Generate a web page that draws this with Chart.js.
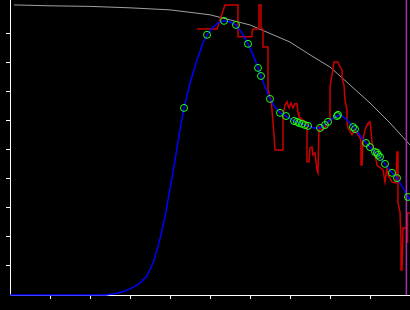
<!DOCTYPE html>
<html>
<head>
<meta charset="utf-8">
<script src="https://cdn.jsdelivr.net/npm/chart.js@4.4.1/dist/chart.umd.min.js"></script>
<style>
  html, body { margin: 0; padding: 0; background: #000; }
  #chart { display: block; background: #000; }
</style>
</head>
<body>
<canvas id="chart" width="410" height="310"></canvas>
<script>
// tick positions (no labels in the picture)
const xTicks = [1, 2, 3, 4, 5, 6, 7, 8, 9];
const yTicks = [1, 2, 3, 4, 5, 6, 7, 8, 9];

// slow gray envelope
const grayX = [0.1, 1.0, 2.0, 3.0, 4.0, 5.0, 6.0, 7.0, 7.5, 8.0, 8.5, 9.0, 9.5, 10.0];
const grayY = [10.0, 9.97, 9.95, 9.9, 9.83, 9.66, 9.31, 8.72, 8.28, 7.86, 7.24, 6.62, 5.93, 5.17];

// smooth blue fit
const blueX = [0, 2.4, 2.7, 2.875, 3.0, 3.175, 3.3, 3.425, 3.575, 3.7, 3.8, 3.875, 3.95, 4.05, 4.15, 4.25,
  4.35, 4.5, 4.675, 4.825, 4.925, 5.075, 5.2, 5.35, 5.5, 5.65, 5.8, 5.95, 6.075, 6.2, 6.275, 6.375,
  6.5, 6.625, 6.75, 6.9, 7.1, 7.3, 7.45, 7.6, 7.75, 7.85, 7.95, 8.075, 8.175, 8.25, 8.375, 8.5,
  8.575, 8.65, 8.775, 8.9, 9.0, 9.125, 9.25, 9.375, 9.55, 9.675, 9.825, 9.95, 10.0];
const blueY = [0, 0, 0.07, 0.14, 0.21, 0.34, 0.48, 0.66, 1.10, 1.66, 2.24, 2.69, 3.28, 4.03, 4.86, 5.69,
  6.45, 7.31, 8.10, 8.69, 8.97, 9.24, 9.38, 9.45, 9.41, 9.31, 9.03, 8.66, 8.28, 7.83, 7.55, 7.17,
  6.76, 6.48, 6.28, 6.17, 6.0, 5.90, 5.83, 5.76, 5.76, 5.86, 5.97, 6.10, 6.17, 6.21, 6.10, 5.93,
  5.79, 5.69, 5.45, 5.24, 5.10, 4.93, 4.76, 4.52, 4.21, 4.03, 3.69, 3.38, 3.28];

// green sample markers
const markX = [4.35, 4.925, 5.35, 5.65, 5.95, 6.2, 6.275, 6.5, 6.75, 6.9, 7.1, 7.175, 7.225, 7.3, 7.375,
  7.45, 7.75, 7.875, 7.95, 8.175, 8.2, 8.575, 8.625, 8.9, 9.0, 9.125, 9.175, 9.2, 9.25, 9.375,
  9.55, 9.675, 9.95];
const markY = [6.45, 8.97, 9.45, 9.31, 8.66, 7.83, 7.55, 6.76, 6.28, 6.17, 6.0, 5.97, 5.93, 5.90, 5.86,
  5.83, 5.76, 5.86, 5.97, 6.17, 6.21, 5.79, 5.72, 5.24, 5.10, 4.93, 4.90, 4.83, 4.76, 4.52,
  4.21, 4.03, 3.38];

// noisy red measurement
const redX = [4.675, 5.175, 5.375, 5.7, 5.7, 6.05, 6.05, 6.075, 6.225, 6.225, 6.275, 6.275, 6.325, 6.325,
  6.45, 6.45, 6.525, 6.55, 6.6, 6.625, 6.825, 6.825, 6.875, 6.925, 6.975, 7.025, 7.075, 7.125,
  7.175, 7.2, 7.225, 7.325, 7.425, 7.425, 7.475, 7.5, 7.55, 7.575, 7.625, 7.675, 7.7, 7.725,
  7.8, 7.875, 7.95, 8.0, 8.0, 8.05, 8.1, 8.2, 8.25, 8.3, 8.3, 8.35, 8.375, 8.425, 8.425, 8.45,
  8.55, 8.625, 8.7, 8.775, 8.775, 8.8, 8.825, 8.875, 8.925, 8.95, 9.0, 9.025, 9.05, 9.075,
  9.15, 9.175, 9.325, 9.375, 9.425, 9.45, 9.55, 9.65, 9.675, 9.7, 9.7, 9.75, 9.775, 9.775,
  9.8, 9.825, 9.925, 9.925, 9.95, 10.0];
const redY = [9.17, 9.17, 10.0, 10.0, 8.90, 8.90, 9.07, 9.17, 9.17, 10.0, 10.0, 9.24, 9.14, 8.55,
  8.55, 7.07, 6.72, 6.38, 5.52, 5.0, 5.0, 6.21, 6.55, 6.66, 6.45, 6.62, 6.45, 6.59,
  6.59, 6.31, 6.14, 6.03, 5.93, 4.59, 4.59, 5.07, 5.10, 4.83, 4.90, 4.31, 4.21, 5.79,
  5.69, 5.76, 5.97, 6.03, 7.17, 7.59, 8.03, 8.03, 7.86, 7.76, 7.48, 7.24, 6.72, 6.38, 5.97, 5.76,
  5.52, 5.69, 5.52, 5.34, 4.48, 4.48, 5.34, 5.69, 5.86, 5.93, 5.97, 5.69, 5.24, 5.10,
  4.66, 4.48, 4.31, 3.90, 4.38, 4.14, 3.90, 3.86, 4.93, 4.93, 3.17, 2.86, 1.90, 0.86,
  0.86, 2.31, 2.31, 1.79, 2.83, 2.83];

// vertical marker line
const cursorX = 9.91;
const yMax = 10.17;

function pts(xs, ys) {
    return xs.map((x, i) => ({ x, y: ys[i] }));
}

const ctx = document.getElementById('chart').getContext('2d');

new Chart(ctx, {
    type: 'scatter',
    data: {
        datasets: [
            {
                data: pts(markX, markY),
                showLine: false,
                pointRadius: 3.5,
                pointBorderWidth: 1,
                pointBorderColor: '#22ff22',
                pointBackgroundColor: 'rgba(0,0,0,0)',
                clip: false
            },
            {
                data: [{ x: cursorX, y: 0 }, { x: cursorX, y: yMax }],
                showLine: true,
                borderColor: '#a030b0',
                borderWidth: 1.5,
                pointRadius: 0,
                clip: false
            },
            {
                data: pts(blueX, blueY),
                showLine: true,
                borderColor: '#0000ff',
                borderWidth: 1.5,
                pointRadius: 0,
                clip: false
            },
            {
                data: pts(redX, redY),
                showLine: true,
                borderColor: '#cc0000',
                borderWidth: 1.5,
                pointRadius: 0,
                clip: false
            },
            {
                data: pts(grayX, grayY),
                showLine: true,
                borderColor: '#a0a0a0',
                borderWidth: 1,
                pointRadius: 0,
                clip: false
            }
        ]
    },
    options: {
        responsive: false,
        animation: false,
        layout: { autoPadding: false, padding: { left: 6, right: 0, top: 0, bottom: 11 } },
        plugins: {
            legend: { display: false },
            tooltip: { enabled: false }
        },
        scales: {
            x: {
                type: 'linear',
                min: 0,
                max: 10,
                afterBuildTicks: s => { s.ticks = xTicks.map(v => ({ value: v })); },
                ticks: { display: false },
                grid: { drawOnChartArea: false, drawTicks: true, tickLength: 4, color: '#ffffff', lineWidth: 1 },
                border: { color: '#ffffff', width: 1 }
            },
            y: {
                type: 'linear',
                min: 0,
                max: yMax,
                afterBuildTicks: s => { s.ticks = yTicks.map(v => ({ value: v })); },
                ticks: { display: false },
                grid: { drawOnChartArea: false, drawTicks: true, tickLength: 4, color: '#ffffff', lineWidth: 1 },
                border: { color: '#ffffff', width: 1 }
            }
        }
    }
});
</script>
</body>
</html>
